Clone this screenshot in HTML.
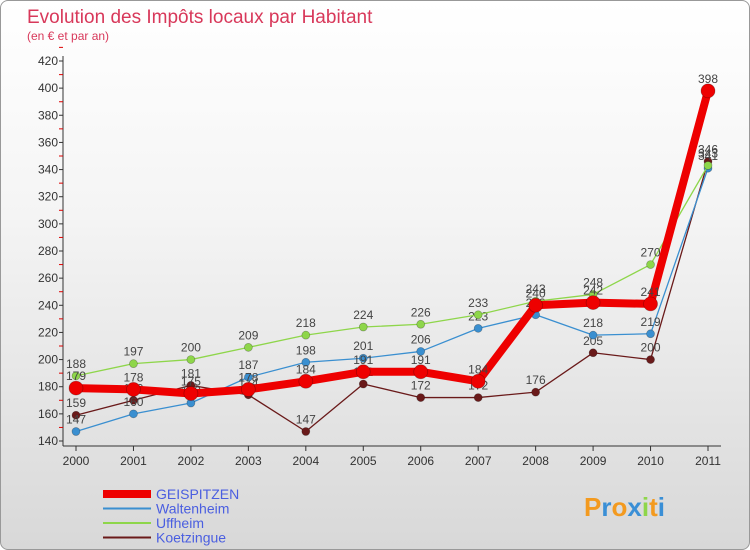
<!DOCTYPE html>
<html><head><meta charset="utf-8"><style>
body{margin:0;width:750px;height:550px;overflow:hidden;font-family:"Liberation Sans",sans-serif}
#wrap{position:absolute;left:0;top:0;width:748px;height:548px;border:1px solid #999;border-radius:8px;background:linear-gradient(#fff 0%,#f4f4f4 40%,#d8d8d8 100%);overflow:hidden}
</style></head><body>
<div id="wrap">
<svg id="chart" width="750" height="550">
<text x="26" y="22" font-size="19" fill="#d8385a">Evolution des Impôts locaux par Habitant</text>
<text x="26" y="39" font-size="12" fill="#d8385a">(en € et par an)</text>
<g id="axes"></g><g id="series"></g><g id="legend"></g>
<text x="583" y="515" font-size="26" font-weight="bold" fill="#f39a1f">P<tspan fill="#3a8fd6">r</tspan>o<tspan fill="#3a8fd6">x</tspan><tspan fill="#8ed64a">i</tspan>t<tspan fill="#3a8fd6">i</tspan></text>
</svg></div>
<script>
const years=[2000,2001,2002,2003,2004,2005,2006,2007,2008,2009,2010,2011];
const yTicks=[140,160,180,200,220,240,260,280,300,320,340,360,380,400,420];
const geispitzen=[179,178,175,178,184,191,191,184,240,242,241,398];
const waltenheim=[147,160,168,187,198,201,206,223,233,218,219,341];
const uffheim=[188,197,200,209,218,224,226,233,243,248,270,343];
const koetzingue=[159,170,181,174,147,182,172,172,176,205,200,346];
const ns="http://www.w3.org/2000/svg";
const X=i=>75+i*(707-75)/11, Y=v=>440-(v-140)*380/280;
function mk(t,a,p){const e=document.createElementNS(ns,t);for(const k in a)e.setAttribute(k,a[k]);p.appendChild(e);return e;}
const ax=document.getElementById('axes');
const yl=mk('line',{x1:62,y1:55,x2:62,y2:445,stroke:'#333'},ax);


const xl=mk('line',{x1:62,y1:445,x2:720,y2:445,stroke:'#333'},ax);


yTicks.forEach(v=>{
 mk('line',{x1:58,y1:Y(v),x2:62,y2:Y(v),stroke:'#333'},ax);
 mk('line',{x1:58,y1:Y(v+10),x2:62,y2:Y(v+10),stroke:'#d00'},ax);
 const t=mk('text',{x:57,y:Y(v)+4,'font-size':12,'text-anchor':'end',fill:'#333'},ax);t.textContent=v;
 
 
});
years.forEach((y,i)=>{
 mk('line',{x1:X(i),y1:445,x2:X(i),y2:450,stroke:'#333'},ax);
 const t=mk('text',{x:X(i),y:464,'font-size':12,'text-anchor':'middle',fill:'#333'},ax);t.textContent=y;
 
 
});
const sg=document.getElementById('series');
function series(d,col,w,r,name){
 const g=mk('g',{},sg);
 
 
 mk('polyline',{points:d.map((v,i)=>X(i)+','+Y(v)).join(' '),fill:'none',stroke:col,'stroke-width':w,'stroke-linejoin':'round'},g);
 d.forEach((v,i)=>{
  const c=mk('circle',{cx:X(i),cy:Y(v),r:r,fill:col,stroke:'rgba(0,0,0,0.3)','stroke-width':0.7},g);
  
  
  const t=mk('text',{x:X(i),y:Y(v)-8,'font-size':12,'text-anchor':'middle',fill:'#444'},g);t.textContent=v;
  
  
 });
}
series(koetzingue,'#6a1a1a',1.3,4,'koetzingue');
series(waltenheim,'#3a8fd0',1.3,4,'waltenheim');
series(uffheim,'#8ed64a',1.3,4,'uffheim');
series(geispitzen,'#ee0000',8,7,'geispitzen');
const lg=document.getElementById('legend');
[['GEISPITZEN','#ee0000',8],['Waltenheim','#3a8fd0',2],['Uffheim','#8ed64a',2],['Koetzingue','#6a1a1a',2]].forEach((e,i)=>{
 const y=493+i*14.5;
 const l=mk('line',{x1:102,y1:y,x2:150,y2:y,stroke:e[1],'stroke-width':e[2]},lg);
 
 
 const t=mk('text',{x:155,y:y+5,'font-size':14,fill:'#4a5ee0'},lg);t.textContent=e[0];
 
 
});
</script></body></html>
